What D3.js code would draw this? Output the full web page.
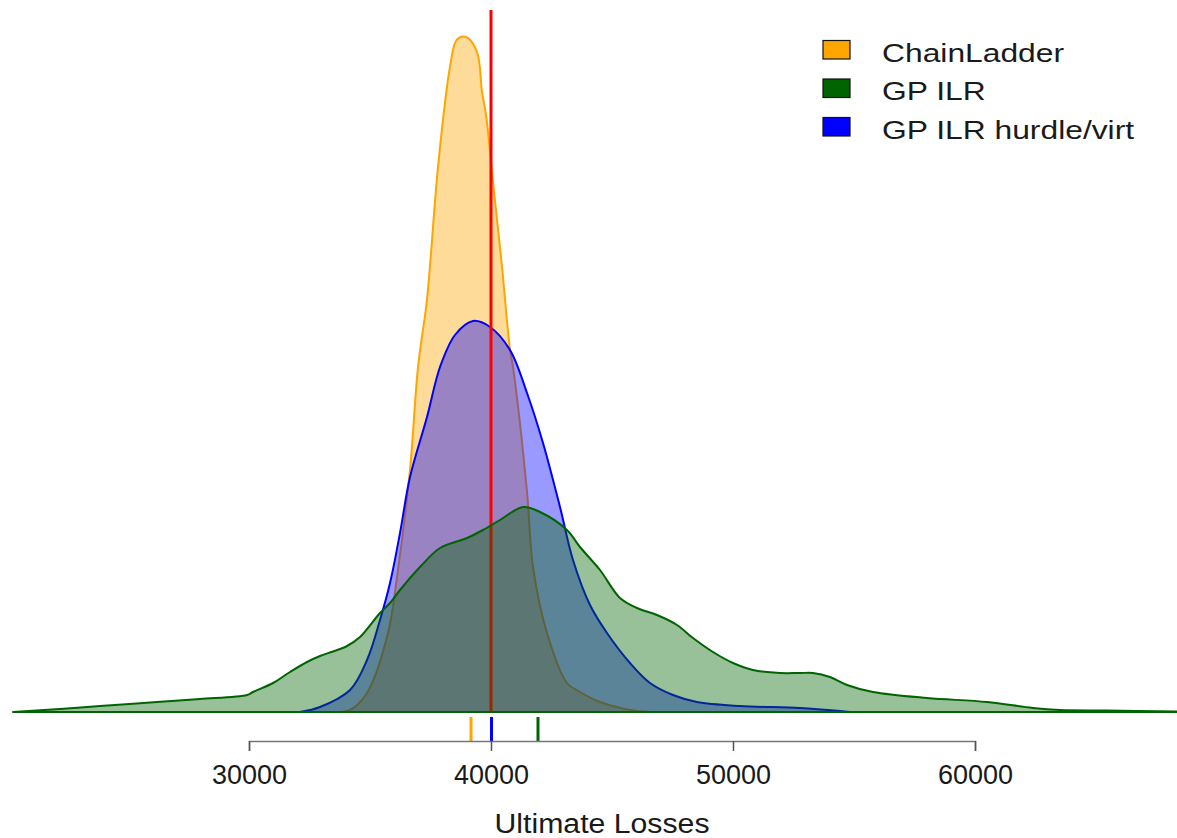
<!DOCTYPE html>
<html>
<head>
<meta charset="utf-8">
<script src="https://cdn.jsdelivr.net/npm/d3@7"></script>
<style>
  html, body { margin: 0; padding: 0; background: #ffffff; }
  svg { display: block; }
  text { font-family: "Liberation Sans", Arial, sans-serif; fill: #1a1a1a; }
</style>
</head>
<body>
<svg id="chart" width="1177" height="838"></svg>
<script>
// ---- data (density in units of 1e-5 per unit of loss) ----
const seriesNames = ["ChainLadder", "GP ILR", "GP ILR hurdle/virt"];
const seriesColors = ["#FFA500", "#006400", "#0000FF"];

const chainLadderX = [33760, 34174, 34876, 35744, 36116, 36653, 36984, 37355, 37810, 38306, 38595, 38967, 39422, 39628, 39793, 40083, 40455, 40785, 40909, 41488, 41736, 42314, 43140, 43680, 44504, 45744, 46570];
const chainLadderY = [0, 0.08, 0.76, 3.16, 5.4, 9.7, 13.8, 16.5, 21.8, 25.8, 26.9, 27.0, 26.4, 24.8, 23.9, 21.2, 17.8, 14.5, 13.8, 8.8, 5.8, 3.16, 1.16, 0.8, 0.4, 0.08, 0];

const gpIlrX = [20248, 22191, 23844, 26199, 27976, 29918, 30166, 30992, 31695, 32397, 32934, 33471, 34050, 34587, 35413, 35827, 36240, 37066, 37893, 39008, 39669, 40372, 41322, 42025, 43140, 43677, 44504, 45330, 46033, 46859, 47686, 48347, 49173, 50000, 50826, 51942, 52768, 53305, 54007, 54710, 55784, 58016, 60495, 62395, 63511, 65453, 68346];
const gpIlrY = [0, 0.12, 0.24, 0.4, 0.52, 0.68, 0.8, 1.16, 1.6, 2.0, 2.24, 2.42, 2.64, 3.0, 3.96, 4.36, 4.88, 5.8, 6.56, 6.96, 7.28, 7.68, 8.2, 8.0, 7.28, 6.6, 5.68, 4.56, 4.16, 3.88, 3.48, 2.96, 2.4, 1.96, 1.68, 1.56, 1.56, 1.56, 1.4, 1.08, 0.8, 0.56, 0.4, 0.16, 0.08, 0.06, 0.02];

const hurdleX = [32108, 32934, 34174, 34876, 35413, 35827, 36240, 36653, 37355, 37893, 38512, 39256, 39959, 40785, 41488, 42149, 42851, 43388, 44091, 44793, 45743, 46570, 47520, 48512, 50289, 52768, 54421, 54834];
const hurdleY = [0, 0.2, 0.88, 2.08, 3.68, 5.16, 7.16, 9.4, 11.8, 13.8, 15.08, 15.64, 15.4, 14.48, 12.76, 10.76, 8.2, 6.08, 4.28, 3.16, 1.96, 1.16, 0.68, 0.4, 0.24, 0.16, 0.04, 0];

// rug marks (point estimates) and true value line
const rugValues = [39174, 41942, 40020]; // ChainLadder, GP ILR, GP ILR hurdle/virt
const trueValue = 40000;

const tickValues = [30000, 40000, 50000, 60000];
const xTitle = "Ultimate Losses";

// ---- layout ----
const svg = d3.select("#chart");
const baseY = 712;

const x = d3.scaleLinear().domain([30000, 60000]).range([249, 975]);
const y = d3.scaleLinear().domain([0, 27]).range([baseY, 37]);

const toPts = (xs, ys) => xs.map((v, i) => [v, ys[i]]);
const series = [
  { name: seriesNames[0], color: seriesColors[0], pts: toPts(chainLadderX, chainLadderY) },
  { name: seriesNames[2], color: seriesColors[2], pts: toPts(hurdleX, hurdleY) },
  { name: seriesNames[1], color: seriesColors[1], pts: toPts(gpIlrX, gpIlrY) }
];

const area = d3.area()
  .x(d => x(d[0]))
  .y0(y(0))
  .y1(d => Math.min(y(0), y(d[1])))
  .curve(d3.curveCatmullRom.alpha(0.5));

function drawSeries(s) {
  svg.append("path")
    .datum(s.pts)
    .attr("d", d => area(d))
    .attr("fill", s.color)
    .attr("fill-opacity", 0.4)
    .attr("stroke", s.color)
    .attr("stroke-width", 2)
    .attr("stroke-linejoin", "round");
}

drawSeries(series[0]);
drawSeries(series[1]);

// true value line (drawn under the GP ILR polygon)
svg.append("line")
  .attr("x1", x(trueValue)).attr("x2", x(trueValue))
  .attr("y1", 10).attr("y2", y(0))
  .attr("stroke", "#FF0000")
  .attr("stroke-width", 3);

drawSeries(series[2]);

// rug marks
const rugColors = [seriesColors[0], seriesColors[1], seriesColors[2]];
svg.selectAll("line.rug")
  .data(rugValues)
  .enter().append("line")
  .attr("class", "rug")
  .attr("x1", d => x(d)).attr("x2", d => x(d))
  .attr("y1", 717).attr("y2", 741)
  .attr("stroke", (d, i) => rugColors[i])
  .attr("stroke-width", 3);

// x axis (R style: line only between first and last tick)
const axis = d3.axisBottom(x)
  .tickValues(tickValues)
  .tickSize(10)
  .tickSizeOuter(10)
  .tickPadding(14)
  .tickFormat(d3.format("d"));

const gAxis = svg.append("g")
  .attr("transform", `translate(0,741)`)
  .call(axis);
gAxis.select(".domain").attr("stroke", "#777").attr("stroke-width", 1.5);
gAxis.selectAll(".tick line").attr("stroke", "#555").attr("stroke-width", 1.5);
gAxis.selectAll(".tick text")
  .attr("font-family", "Liberation Sans, Arial, sans-serif")
  .attr("font-size", 27)
  .attr("fill", "#1a1a1a")
  .attr("dy", "0.71em");

svg.append("text")
  .attr("transform", "translate(602,833) scale(1.12,1)")
  .attr("text-anchor", "middle")
  .attr("font-size", 27)
  .text(xTitle);

// legend
const legendOrder = [0, 1, 2];
const leg = svg.append("g");
legendOrder.forEach((k, i) => {
  const yy = 40.5 + i * 38.5;
  leg.append("rect")
    .attr("x", 823).attr("y", yy)
    .attr("width", 27).attr("height", 18.5)
    .attr("fill", seriesColors[k])
    .attr("stroke", "#111")
    .attr("stroke-width", 1.2);
  leg.append("text")
    .attr("transform", `translate(882,${yy + 21}) scale(1.2,1)`)
    .attr("font-size", 26.5)
    .text(seriesNames[k]);
});
</script>
</body>
</html>
